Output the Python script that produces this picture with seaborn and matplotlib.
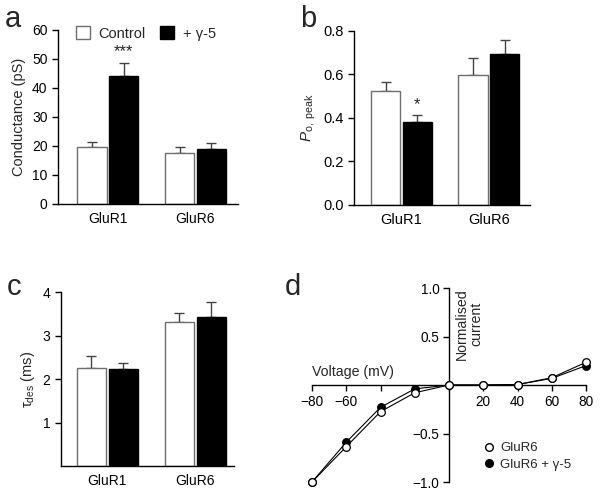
import numpy as np
import pandas as pd
import matplotlib.pyplot as plt
from matplotlib.patches import Patch
from matplotlib.lines import Line2D
import seaborn as sns

sns.set_theme(style="ticks")
plt.rcParams['font.family'] = ['Liberation Sans', 'DejaVu Sans']
plt.rcParams['mathtext.fontset'] = 'custom'
plt.rcParams['mathtext.rm'] = 'Liberation Sans'
plt.rcParams['mathtext.it'] = 'Liberation Sans:italic'
plt.rcParams['axes.linewidth'] = 1.0
plt.rcParams['axes.edgecolor'] = 'black'
plt.rcParams['xtick.color'] = 'black'
plt.rcParams['ytick.color'] = 'black'

# data
receptors = ['GluR1', 'GluR6']
conditions = ['Control', '+ γ-5']

cond_ctrl = [19.5, 17.6]      # conductance (pS)
cond_g5 = [44.2, 18.8]
cond_ctrl_err = [1.9, 2.0]
cond_g5_err = [4.3, 2.1]

popen_ctrl = [0.525, 0.599]   # Po,peak
popen_g5 = [0.381, 0.696]
popen_ctrl_err = [0.042, 0.076]
popen_g5_err = [0.031, 0.062]

tau_ctrl = [2.25, 3.32]       # tau des (ms)
tau_g5 = [2.24, 3.43]
tau_ctrl_err = [0.29, 0.21]
tau_g5_err = [0.14, 0.35]

voltage = [-80, -60, -40, -20, 0, 20, 40, 60, 80]
iv_glur6 = [-1.0, -0.636, -0.275, -0.08, 0.0, 0.0, 0.005, 0.075, 0.234]
iv_glur6_g5 = [-1.0, -0.59, -0.23, -0.04, 0.0, 0.0, 0.005, 0.068, 0.2]


def bar_panel(ax, ctrl, g5, ctrl_err, g5_err, xlim, fs):
    df = pd.DataFrame({
        'receptor': receptors * 2,
        'condition': [conditions[0]] * 2 + [conditions[1]] * 2,
        'value': ctrl + g5,
    })
    sns.barplot(data=df, x='receptor', y='value', hue='condition',
                hue_order=conditions, palette=['white', 'black'],
                width=0.73, gap=0.09, errorbar=None, legend=False,
                linewidth=1.0, ax=ax, zorder=2)
    errs = [ctrl_err, g5_err]
    edges = ['#6e6e6e', 'black']
    tops = []
    bar_containers = list(ax.containers)
    for k, cont in enumerate(bar_containers):
        xs, ys = [], []
        for p in cont.patches:
            p.set_edgecolor(edges[k])
            xs.append(p.get_x() + p.get_width() / 2)
            ys.append(p.get_height())
        e = np.array(errs[k])
        ax.errorbar(xs, ys, yerr=[np.zeros_like(e), e], fmt='none',
                    ecolor='#444444', elinewidth=1.0, capsize=3.5,
                    capthick=1.0, zorder=1)
        tops.append(list(zip(xs, np.array(ys) + e)))
    ax.set_xlim(*xlim)
    ax.set_xlabel('')
    sns.despine(ax=ax)
    ax.tick_params(axis='x', length=0, labelsize=fs, pad=6)
    ax.tick_params(axis='y', length=4.5, width=1.0, labelsize=fs, pad=3)
    return tops


fig = plt.figure(figsize=(6.0, 4.93), dpi=100)

# panel a
ax_a = fig.add_axes([58 / 600, 1 - 204 / 493, 180 / 600, 174 / 493])
tops = bar_panel(ax_a, cond_ctrl, cond_g5, cond_ctrl_err, cond_g5_err,
                 (-0.571, 1.486), 10)
ax_a.set_ylim(0, 60)
ax_a.set_yticks(range(0, 61, 10))
ax_a.set_ylabel('Conductance (pS)', fontsize=10.5, labelpad=4)
x0, y0 = tops[1][0]
ax_a.annotate('***', (x0, y0), xytext=(0, 3), textcoords='offset points',
              ha='center', va='bottom', fontsize=12)
handles = [Patch(facecolor='white', edgecolor='#6e6e6e', linewidth=1.0),
           Patch(facecolor='black', edgecolor='black', linewidth=1.0)]
ax_a.legend(handles, conditions, ncol=2, loc='center left',
            bbox_to_anchor=(0.1, 0.98), frameon=False, fontsize=10.5,
            handlelength=0.95, handleheight=0.95, handletextpad=0.6,
            columnspacing=1.0, borderpad=0, borderaxespad=0)

# panel b
ax_b = fig.add_axes([354 / 600, 1 - 204.7 / 493, 176 / 600, 173.7 / 493])
tops = bar_panel(ax_b, popen_ctrl, popen_g5, popen_ctrl_err, popen_g5_err,
                 (-0.543, 1.469), 10.5)
ax_b.set_ylim(0, 0.8)
ax_b.set_yticks(np.arange(0, 0.81, 0.2))
ax_b.set_yticklabels(['0.0', '0.2', '0.4', '0.6', '0.8'])
ax_b.set_ylabel(r'$P_{\mathrm{o,\ peak}}$', fontsize=11, labelpad=4)
x0, y0 = tops[1][0]
ax_b.annotate('*', (x0, y0), xytext=(0, 2), textcoords='offset points',
              ha='center', va='bottom', fontsize=12)

# panel c
ax_c = fig.add_axes([61 / 600, 1 - 466 / 493, 173 / 600, 173.7 / 493])
bar_panel(ax_c, tau_ctrl, tau_g5, tau_ctrl_err, tau_g5_err,
          (-0.527, 1.44), 10)
ax_c.set_ylim(0, 4)
ax_c.set_yticks([1, 2, 3, 4])
ax_c.set_ylabel('τ$_{\\mathrm{des}}$ (ms)', fontsize=10.5, labelpad=4)

# panel d
ax_d = fig.add_axes([312 / 600, 1 - 482 / 493, 274 / 600, 194 / 493])
iv = pd.DataFrame({'mV': voltage * 2,
                   'I': iv_glur6_g5 + iv_glur6,
                   'cond': ['GluR6 + γ-5'] * 9 + ['GluR6'] * 9})
for name, fc in [('GluR6 + γ-5', 'black'), ('GluR6', 'white')]:
    sub = iv[iv['cond'] == name]
    sns.lineplot(data=sub, x='mV', y='I', color='black', linewidth=0.8,
                 marker='o', markersize=5.5, markerfacecolor=fc,
                 markeredgecolor='black', markeredgewidth=0.9,
                 clip_on=False, ax=ax_d, zorder=3)
ax_d.set_xlim(-80, 80)
ax_d.set_ylim(-1, 1)
ax_d.spines['left'].set_position(('data', 0))
ax_d.spines['bottom'].set_position(('data', 0))
ax_d.spines['right'].set_visible(False)
ax_d.spines['top'].set_visible(False)
ax_d.set_xticks(voltage)
ax_d.set_xticklabels(['−80', '−60', '', '', '', '20', '40', '60', '80'])
ax_d.set_yticks([-1.0, -0.5, 0.5, 1.0])
ax_d.set_yticklabels(['−1.0', '−0.5', '0.5', '1.0'])
ax_d.tick_params(axis='both', length=4, width=1.0, labelsize=9.8, pad=3)
ax_d.set_xlabel('')
ax_d.set_ylabel('')
ax_d.text(-80, 0.06, 'Voltage (mV)', ha='left', va='bottom', fontsize=10.2)
ax_d.text(3.5, 1.0, 'Normalised\ncurrent', rotation=90, ha='left', va='top',
          multialignment='center', fontsize=10.2, linespacing=1.0)
leg_handles = [Line2D([], [], linestyle='none', marker='o', markersize=5.5,
                      markerfacecolor='white', markeredgecolor='black'),
               Line2D([], [], linestyle='none', marker='o', markersize=5.5,
                      markerfacecolor='black', markeredgecolor='black')]
ax_d.legend(leg_handles, ['GluR6', 'GluR6 + γ-5'], loc='upper left',
            bbox_to_anchor=(0.625, 0.205), frameon=False, fontsize=9.5,
            handlelength=0.8, handletextpad=0.5, labelspacing=0.3,
            borderpad=0, borderaxespad=0)

# panel letters
for letter, x, y in [('a', 5, 27), ('b', 300, 27), ('c', 7, 295), ('d', 285, 295)]:
    fig.text(x / 600, 1 - y / 493, letter, fontsize=21, va='baseline', ha='left')

fig.savefig('out.png', dpi=100)
